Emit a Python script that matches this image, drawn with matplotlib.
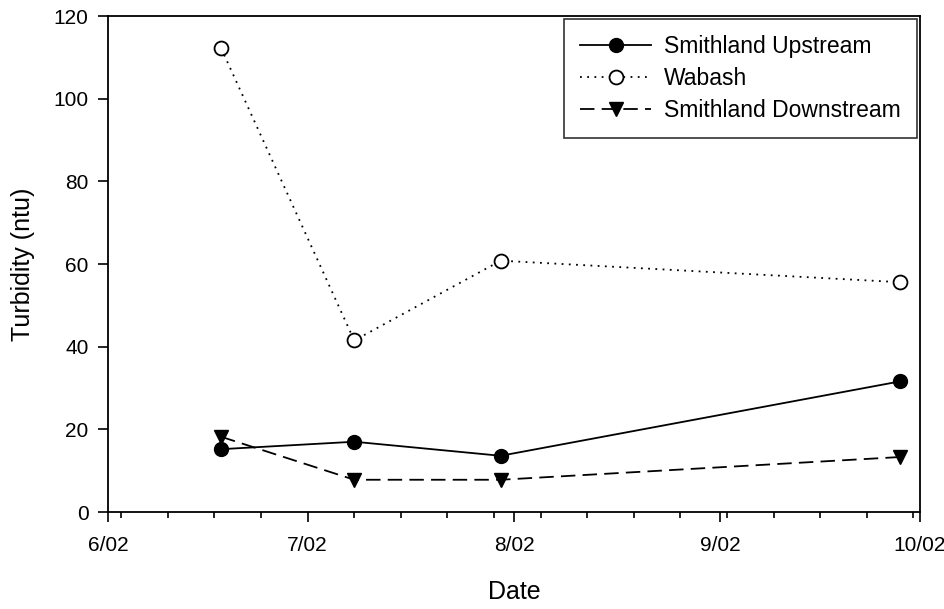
import matplotlib
matplotlib.use("Agg")
import matplotlib.pyplot as plt
import matplotlib.dates as mdates
import numpy as np
from datetime import datetime

plt.rcParams['font.family'] = ['Liberation Sans', 'DejaVu Sans']

dates = [datetime(2002, 6, 18), datetime(2002, 7, 8), datetime(2002, 7, 30), datetime(2002, 9, 28)]
upstream = [15.2, 17.0, 13.6, 31.6]
wabash = [112.2, 41.5, 60.8, 55.6]
downstream = [18.2, 7.8, 7.8, 13.3]
series_names = ["Smithland Upstream", "Wabash", "Smithland Downstream"]

fig = plt.figure(figsize=(9.45, 6.09), dpi=100)
ax = fig.add_axes([108/945, 1-512/609, (920-108)/945, (512-16)/609])

ax.plot(dates, upstream, color='black', linestyle='-', linewidth=1.3,
        marker='o', markersize=10, markerfacecolor='black', markeredgecolor='black',
        label=series_names[0])
ax.plot(dates, wabash, color='black', linestyle=(0, (1, 3)), linewidth=1.3,
        marker='o', markersize=10, markerfacecolor='white', markeredgecolor='black',
        markeredgewidth=1.3, label=series_names[1])
ax.plot(dates, downstream, color='black', linestyle=(0, (8, 4)), linewidth=1.3,
        marker='v', markersize=10, markerfacecolor='black', markeredgecolor='black',
        label=series_names[2])

ax.set_xlim(datetime(2002, 6, 1), datetime(2002, 10, 1))
ax.set_ylim(0, 120)
ax.set_yticks(np.arange(0, 121, 20))

ax.xaxis.set_major_locator(mdates.MonthLocator())
ax.xaxis.set_major_formatter(mdates.DateFormatter('%-m/%y'))
ax.xaxis.set_minor_locator(mdates.WeekdayLocator(byweekday=mdates.MO))

ax.tick_params(axis='both', which='major', direction='out', length=7, width=1.2,
               labelsize=15, pad=7, colors='black')
ax.tick_params(axis='x', which='major', pad=10)
ax.tick_params(axis='x', which='minor', direction='out', length=4.5, width=1.2)
for s in ax.spines.values():
    s.set_linewidth(1.3)

ax.set_xlabel("Date", fontsize=18, labelpad=18)
ax.set_ylabel("Turbidity (ntu)", fontsize=18, labelpad=13)

leg = ax.legend(loc='upper right', fontsize=16.5, frameon=True, fancybox=False,
                edgecolor='black', borderaxespad=0.15, handlelength=3.1,
                labelspacing=0.38, borderpad=0.7, handletextpad=0.55)
leg.get_frame().set_linewidth(1.2)

fig.savefig("out.png", dpi=100)
